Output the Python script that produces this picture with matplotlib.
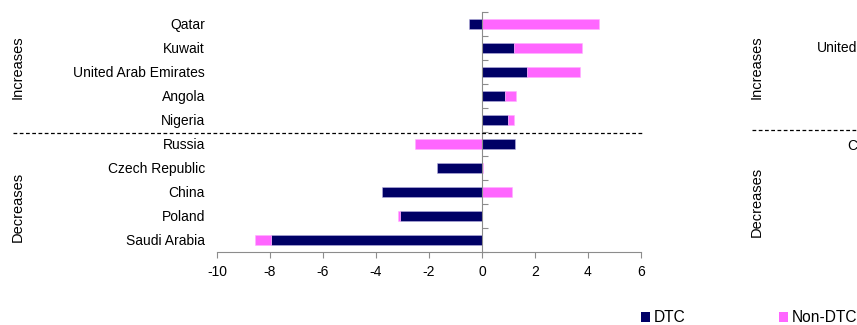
import matplotlib
matplotlib.use("Agg")
import matplotlib.pyplot as plt
from matplotlib.lines import Line2D
from matplotlib.patches import Patch
import matplotlib.transforms as mtransforms
import numpy as np

plt.rcParams['font.family'] = ['Liberation Sans', 'DejaVu Sans']

# Change by country, split into DTC and non-DTC parts
countries = ["Qatar", "Kuwait", "United Arab Emirates", "Angola", "Nigeria",
             "Russia", "Czech Republic", "China", "Poland", "Saudi Arabia"]
dtc = [-0.5, 1.22, 1.70, 0.88, 0.98, 1.23, -1.70, -3.78, -3.11, -7.97]
non_dtc = [4.4, 2.55, 2.01, 0.40, 0.21, -2.53, 0.02, 1.14, -0.05, -0.6]
x_ticks = [-10, -8, -6, -4, -2, 0, 2, 4, 6]

DTC_COLOR = "#000066"
NON_DTC_COLOR = "#FF66FF"
AXIS_GREY = "#8c8c8c"
FS = 10

W, H = 857, 325
fig = plt.figure(figsize=(W / 100, H / 100), dpi=100)

def fx(px):
    return px / W

def fy(py):
    return 1 - py / H

ax = fig.add_axes([fx(217), fy(252), fx(641) - fx(217), fy(12) - fy(252)])

y = np.arange(len(countries))
dtc_arr = np.array(dtc)
non_arr = np.array(non_dtc)
# non-DTC stacks on the DTC bar when both move the same way, otherwise starts at zero
non_left = np.where(np.sign(non_arr) == np.sign(dtc_arr), dtc_arr, 0.0)

bar_h = 0.4
ax.barh(y, dtc_arr, height=bar_h, color=DTC_COLOR, edgecolor="#b8b0e0",
        linewidth=0.4, label="DTC")
ax.barh(y, non_arr, left=non_left, height=bar_h, color=NON_DTC_COLOR,
        edgecolor="#ffb0ff", linewidth=0.4, label="Non-DTC")

ax.set_xlim(-10, 6)
ax.set_ylim(len(countries) - 0.5, -0.5)
ax.set_xticks(x_ticks)
ax.set_xticklabels([str(v) for v in x_ticks], fontsize=FS)
ax.set_yticks(np.arange(-0.5, len(countries), 1.0))
ax.set_yticklabels([])

for side in ["top", "right"]:
    ax.spines[side].set_visible(False)
ax.spines["left"].set_position(("data", 0))
ax.spines["left"].set_color(AXIS_GREY)
ax.spines["bottom"].set_color(AXIS_GREY)
ax.tick_params(axis="y", direction="in", length=4, color=AXIS_GREY, width=0.8)
ax.tick_params(axis="x", direction="out", length=4, color=AXIS_GREY, width=0.8,
               pad=5, labelcolor="black")

# Category names placed at the left edge of the plot area
trans = mtransforms.blended_transform_factory(fig.transFigure, ax.transData)
for i, name in enumerate(countries):
    ax.text(fx(205), i, name, transform=trans, ha="right",
            va="center_baseline", fontsize=FS)

# Group labels
fig.text(fx(18), fy(67), "Increases", rotation=90, ha="center", va="center",
         fontsize=10.5)
fig.text(fx(18), fy(207), "Decreases", rotation=90, ha="center", va="center",
         fontsize=10.5)

# Separator between increasing and decreasing groups
fig.add_artist(Line2D([fx(13), fx(642)], [fy(133), fy(133)], color="black",
                      linewidth=0.9, linestyle=(0, (3, 2)),
                      transform=fig.transFigure))

# Neighbouring panel, continuing past the right edge
fig.text(fx(757), fy(67), "Increases", rotation=90, ha="center", va="center",
         fontsize=10.5)
fig.text(fx(757), fy(202), "Decreases", rotation=90, ha="center", va="center",
         fontsize=10.5)
fig.add_artist(Line2D([fx(752), fx(870)], [fy(130), fy(130)], color="black",
                      linewidth=0.9, linestyle=(0, (3, 2)),
                      transform=fig.transFigure))
fig.text(fx(817), fy(47), "United", ha="left", va="center_baseline", fontsize=FS)
fig.text(fx(847), fy(145), "C", ha="left", va="center_baseline", fontsize=FS)

# Legend
handles = [Patch(facecolor=DTC_COLOR, edgecolor="none"),
           Patch(facecolor=NON_DTC_COLOR, edgecolor="none")]
fig.legend(handles, ["DTC", "Non-DTC"], loc="center left",
           bbox_to_anchor=(fx(641), fy(318)), ncol=2, frameon=False,
           fontsize=11.2, handlelength=0.55, handleheight=0.55,
           handletextpad=0.25, columnspacing=6.05, borderpad=0, borderaxespad=0)

fig.savefig("out.png", dpi=100)
